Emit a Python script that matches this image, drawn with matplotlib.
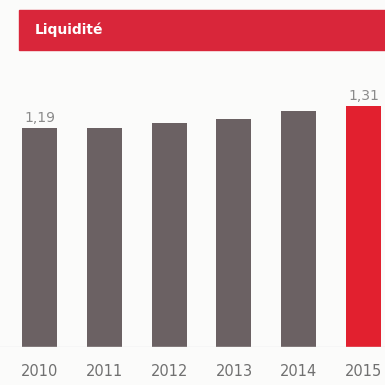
import matplotlib
matplotlib.use("Agg")
import matplotlib.pyplot as plt
from matplotlib.patches import Rectangle

years = ["2010", "2011", "2012", "2013", "2014", "2015"]
values = [1.19, 1.19, 1.22, 1.24, 1.28, 1.31]
labels = {0: "1,19", 5: "1,31"}
colors = ["#6b6163"] * 5 + ["#e2202f"]

fig = plt.figure(figsize=(3.85, 3.85), dpi=100)
fig.patch.set_facecolor("#fbfbfa")

ax = fig.add_axes([0, 38 / 385, 1, (347 - 60) / 385])
ax.set_facecolor("none")
x = list(range(len(years)))
ax.bar(x, values, width=0.54, color=colors)
ax.set_xlim(-0.61, 5.33)
ax.set_ylim(0, (347 - 60) / 184)
for i, t in labels.items():
    ax.text(i, values[i] + 0.015, t, ha="center", va="bottom", fontsize=10, color="#8a8a8a")
ax.axhline(0, color="#e6e6e6", lw=1)
ax.set_xticks(x)
ax.set_xticklabels(years, fontsize=10.5, color="#707070")
ax.tick_params(axis="x", length=0, pad=12)
ax.set_yticks([])
for s in ax.spines.values():
    s.set_visible(False)

fig.patches.append(Rectangle((19 / 385, 1 - 50 / 385), 1 - 19 / 385, 40 / 385,
                             transform=fig.transFigure, color="#d9263a", zorder=0))
fig.text(35 / 385, 1 - 30 / 385, "Liquidité", color="white", fontsize=10,
         fontweight="bold", va="center", ha="left")

fig.savefig("out.png", dpi=100, facecolor=fig.get_facecolor())
